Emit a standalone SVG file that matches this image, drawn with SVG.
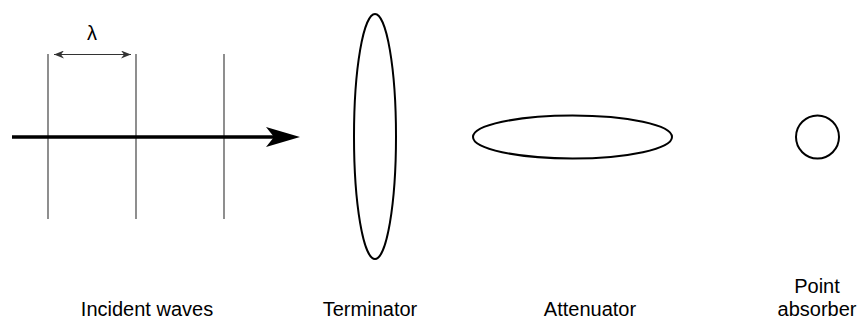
<svg xmlns="http://www.w3.org/2000/svg" width="861" height="320" viewBox="0 0 861 320">
<style>
.lbl{font-family:"Liberation Sans",Arial,sans-serif;font-size:20px;fill:#000;text-anchor:middle}
.wave{stroke:#444;stroke-width:1.2;fill:none}
.shape{stroke:#000;stroke-width:2;fill:none}
</style>
<defs>
<marker id="sm" viewBox="0 0 10 8" refX="10" refY="4" markerWidth="10" markerHeight="8" orient="auto-start-reverse" markerUnits="userSpaceOnUse">
<path d="M0,0 L10,4 L0,8 L3,4 Z" fill="#333"/>
</marker>
</defs>
<rect width="861" height="320" fill="#fff"/>
<g id="incident-waves">
<line class="wave" x1="48" y1="54" x2="48" y2="219"/>
<line class="wave" x1="136" y1="54" x2="136" y2="219"/>
<line class="wave" x1="224" y1="54" x2="224" y2="219"/>
<text class="lbl" x="92" y="40">λ</text>
<text class="lbl" x="147" y="316">Incident waves</text>
</g>
<g id="connectors">
<line x1="54" y1="54.5" x2="131" y2="54.5" stroke="#333" stroke-width="1.2" marker-start="url(#sm)" marker-end="url(#sm)"/>
<line x1="12" y1="137" x2="285" y2="137" stroke="#000" stroke-width="3.5"/>
<path d="M266,127 L300,137 L266,147 L274,137 Z" fill="#000"/>
</g>
<g id="terminator">
<ellipse class="shape" cx="375" cy="136.5" rx="21" ry="122.5"/>
<text class="lbl" x="370" y="316">Terminator</text>
</g>
<g id="attenuator">
<ellipse class="shape" cx="572.5" cy="137" rx="99.5" ry="21.5"/>
<text class="lbl" x="590" y="316">Attenuator</text>
</g>
<g id="point-absorber">
<circle class="shape" cx="817.5" cy="137" r="21.5"/>
<text class="lbl" x="817" y="293">Point</text>
<text class="lbl" x="817" y="316">absorber</text>
</g>
</svg>
